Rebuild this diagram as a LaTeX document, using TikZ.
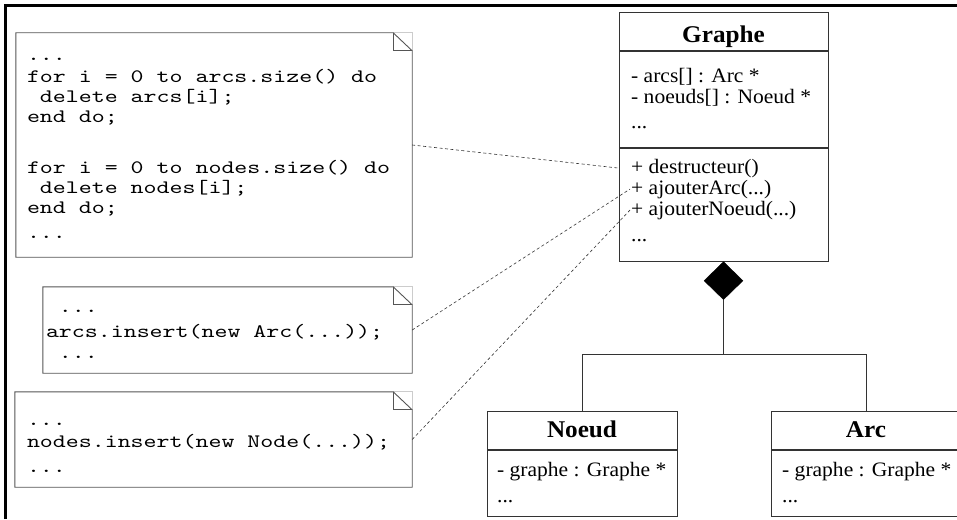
\documentclass[tikz,border=0pt]{standalone}
\usepackage{fontspec}
\setmainfont{Liberation Serif}[FakeStretch=1.05]
\newfontfamily\codefont{lmmono10-regular.otf}[FakeStretch=1.3]
\usetikzlibrary{positioning,shapes.geometric}
\definecolor{umlline}{HTML}{333333}
\definecolor{notegrey}{HTML}{555555}
\definecolor{foldgrey}{HTML}{CCCCCC}
\newcommand{\firstrow}[1]{\rule{0pt}{#1}}
\newcommand{\ind}{\hphantom{x}}
\newcommand{\codespace}{\spaceskip=12.97pt\relax}
\tikzset{
  classhead/.style = {rectangle, draw=umlline, line width=1pt, inner sep=0pt,
                      minimum height=38pt, text depth=0pt,
                      font=\fontsize{24}{24}\selectfont\bfseries},
  classpart/.style = {rectangle, draw=umlline, line width=1pt, inner sep=0pt},
  member/.style    = {anchor=base west, inner sep=1pt,
                      font=\fontsize{20.5}{20}\selectfont},
  notebox/.style   = {rectangle, inner ysep=0pt, align=left,
                      font=\codefont\fontsize{19}{20}\selectfont},
  notepen/.style   = {draw=notegrey, line width=0.9pt},
  foldpen/.style   = {draw=foldgrey, line width=0.9pt},
  comp/.style      = {diamond, fill=black, draw=black, inner sep=0pt,
                      minimum width=39pt, minimum height=38pt},
  assoc/.style     = {draw=umlline, line width=1pt},
  attach/.style    = {draw=black!80, line width=0.6pt,
                      dash pattern=on 3pt off 2.5pt},
  frame/.style     = {draw=black, line width=3.5pt},
}

\begin{document}
\begin{tikzpicture}[x=1pt,y=-1pt]
  \useasboundingbox (0,0) rectangle (957,519);
  \draw[frame] (5.5,519) -- (5.5,5.5) -- (957,5.5);

  % --- notes
  \node[notebox, inner xsep=11pt, text width=374pt, minimum width=396pt,
        minimum height=224pt] (noteDel) at (214,145)
    {\codespace\firstrow{14pt}...\\[2pt]
     for i = 0 to arcs.size() do\\
     \ind delete arcs[i];\\
     end do;\\[31pt]
     for i = 0 to nodes.size() do\\
     \ind delete nodes[i];\\
     end do;\\[5pt]
     ...\strut};
  \node[notebox, inner xsep=3pt, text width=363pt, minimum width=369pt,
        minimum height=86pt] (noteArc) at (227.5,330)
    {\codespace\firstrow{16pt}\ind...\\[5pt]
     arcs.insert(new Arc(...));\\[1pt]
     \ind...\strut};
  \node[notebox, inner xsep=12pt, text width=373pt, minimum width=397pt,
        minimum height=95pt] (noteNode) at (213.5,439.5)
    {\codespace\firstrow{24pt}...\\[2pt]
     nodes.insert(new Node(...));\\[5pt]
     ...\strut};
  \foreach \n in {noteDel, noteArc, noteNode}{
    \draw[foldpen] ([xshift=-19pt]\n.north east) -- (\n.north east)
      -- ([yshift=-18pt]\n.north east);
    \draw[notepen] (\n.north west) -- ([xshift=-19pt]\n.north east)
      -- ([yshift=-18pt]\n.north east) -- (\n.south east)
      -- (\n.south west) -- cycle;
    \draw[notepen] ([xshift=-19pt]\n.north east) |- ([yshift=-18pt]\n.north east);
  }

  % --- class Graphe
  \node[classhead, minimum width=209pt, text height=21pt] (gHead) at (723.5,32) {Graphe};
  \node[classpart, minimum width=209pt, minimum height=95pt, below=0pt of gHead] (gAttr) {};
  \node[classpart, minimum width=209pt, minimum height=113pt, below=0pt of gAttr] (gMeth) {};
  \node[member] (gArcs)  at (630,82)  {- arcs[] : Arc *};
  \node[member] (gNodes) at (630,103) {- noeuds[] : Noeud *};
  \node[member] (gMore)  at (630,128) {...};
  \node[member] (mDestr)   at (630,173) {+ destructeur()};
  \node[member] (mAddArc)  at (630,194) {+ ajouterArc(...)};
  \node[member] (mAddNode) at (630,215) {+ ajouterNoeud(...)};
  \node[member] (mMore)    at (630,241) {...};

  % --- classes Noeud and Arc
  \node[classhead, minimum width=190pt, text height=14.6pt] (nHead) at (582,430) {Noeud};
  \node[classpart, minimum width=190pt, minimum height=66pt, below=0pt of nHead] (nAttr) {};
  \node[member] (nGraph) at (496,476) {- graphe : Graphe *};
  \node[member] (nMore)  at (496,502) {...};
  \node[classhead, minimum width=190pt, text height=14.6pt] (aHead) at (866,430) {Arc};
  \node[classpart, minimum width=190pt, minimum height=66pt, below=0pt of aHead] (aAttr) {};
  \node[member] (aGraph) at (781,476) {- graphe : Graphe *};
  \node[member] (aMore)  at (781,502) {...};

  % --- composition
  \node[comp, anchor=north] (dia) at (gMeth.south) {};
  \coordinate (fork) at (723.5,354);
  \draw[assoc] (dia.south) -- (fork);
  \draw[assoc] (nHead.north) -- (nHead.north |- fork) -- (aHead.north |- fork)
    -- (aHead.north);

  % --- note links
  \draw[attach] (noteDel.east) -- (mDestr.west -| gMeth.west);
  \draw[attach] (noteArc.east) -- (mAddArc.west);
  \draw[attach] (noteNode.east) -- (mAddNode.west);
\end{tikzpicture}
\end{document}
